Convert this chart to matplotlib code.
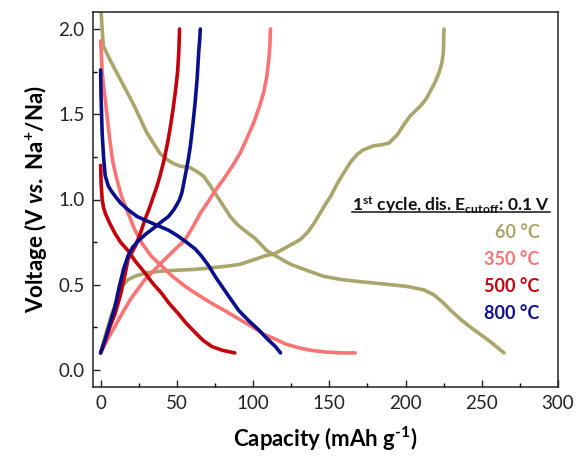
import matplotlib
matplotlib.use("Agg")
import matplotlib.pyplot as plt
from matplotlib.ticker import MultipleLocator
from matplotlib.lines import Line2D

plt.rcParams['font.family'] = ['Lato', 'DejaVu Sans']
plt.rcParams['mathtext.fontset'] = 'custom'
plt.rcParams['mathtext.default'] = 'regular'
plt.rcParams['mathtext.it'] = 'Lato:italic:bold'
plt.rcParams['mathtext.rm'] = 'Lato:bold'
plt.rcParams['mathtext.bf'] = 'Lato:bold'

# ---------------- data ----------------
labels = ["60 °C", "350 °C", "500 °C", "800 °C"]
colors = ["#A8A66A", "#FA7474", "#C4000C", "#0A108A"]

# 60 C
dis60_cap = [0, 1, 1.8, 5, 8.4, 15, 22, 30.4, 39, 43.5, 48, 52.2, 58.8, 63, 67.5, 72, 76.3, 80, 85, 90, 95,
             101.5, 109, 114.7, 124.5, 135, 146, 158, 168, 185, 201, 212, 218.7, 224, 229.6, 237, 245, 255, 264.6]
dis60_v = [2.15, 2.0, 1.90, 1.84, 1.78, 1.67, 1.55, 1.39, 1.27, 1.235, 1.21, 1.196, 1.186, 1.165, 1.137, 1.08, 1.02, 0.97, 0.90, 0.85, 0.815,
           0.77, 0.70, 0.67, 0.62, 0.585, 0.55, 0.53, 0.52, 0.505, 0.49, 0.47, 0.44, 0.40, 0.35, 0.29, 0.235, 0.17, 0.10]
chg60_cap = [0, 3, 7, 11, 14, 18, 22.7, 30, 40, 50, 62, 73, 84, 91.6, 101.5, 108, 113.5, 122, 131, 136, 140, 144,
             148, 151, 155, 159.5, 164, 168.3, 172, 175, 179, 183.6, 189, 194.6, 199, 203, 206.5, 209.9, 213.5,
             216.5, 219.5, 222, 223.8, 224.8, 225.2]
chg60_v = [0.10, 0.2, 0.32, 0.42, 0.49, 0.53, 0.55, 0.57, 0.58, 0.585, 0.59, 0.60, 0.61, 0.62, 0.65, 0.67, 0.68, 0.72, 0.765, 0.81, 0.86, 0.92,
           0.98, 1.02, 1.09, 1.157, 1.22, 1.265, 1.29, 1.30, 1.315, 1.32, 1.33, 1.38, 1.44, 1.49, 1.52, 1.55, 1.59,
           1.64, 1.69, 1.745, 1.80, 1.86, 2.0]

# 350 C
dis350_cap = [0, 0.5, 1, 2, 3, 4.5, 6, 8, 10.6, 14, 18, 22, 27, 33, 40, 47, 55.5, 64, 73, 82, 90.5, 100, 107,
              114.7, 122, 130, 138, 148, 158, 167]
dis350_v = [1.93, 1.85, 1.75, 1.66, 1.59, 1.47, 1.35, 1.22, 1.12, 1.01, 0.92, 0.83, 0.745, 0.67, 0.61, 0.55, 0.49, 0.44, 0.39, 0.345, 0.30, 0.25, 0.21,
            0.18, 0.15, 0.13, 0.115, 0.105, 0.10, 0.10]
chg350_cap = [0, 4, 9, 14, 20, 29, 40, 48, 55.5, 60.5, 65.4, 70, 75, 80.7, 86, 91.7, 96, 100.4, 104, 107, 109, 110.3, 111, 111.4]
chg350_v = [0.10, 0.17, 0.25, 0.33, 0.42, 0.53, 0.63, 0.70, 0.765, 0.84, 0.92, 0.98, 1.05, 1.12, 1.19, 1.275, 1.36, 1.45, 1.54, 1.63, 1.72, 1.82, 1.90, 2.0]

# 500 C
dis500_cap = [0, 0.3, 1, 2, 3, 6, 9.5, 13, 18, 23, 29, 34, 40, 45, 51, 56, 62, 67, 73, 80, 88]
dis500_v = [1.2, 1.1, 1.0, 0.95, 0.92, 0.86, 0.80, 0.75, 0.70, 0.635, 0.57, 0.51, 0.45, 0.39, 0.33, 0.275, 0.22, 0.175, 0.137, 0.115, 0.10]
chg500_cap = [0, 3, 6, 9.5, 13, 16, 18, 20.5, 22.7, 26, 29, 32, 34.7, 37, 39, 41, 42.5, 44.5, 46, 47.5, 49, 50.5, 51.3, 51.8]
chg500_v = [0.10, 0.17, 0.25, 0.33, 0.44, 0.56, 0.65, 0.69, 0.725, 0.80, 0.88, 0.95, 1.02, 1.08, 1.14, 1.21, 1.27, 1.36, 1.44, 1.53, 1.63, 1.75, 1.87, 2.0]

# 800 C
dis800_cap = [0, 0.3, 1, 2, 3, 5, 7, 9.5, 13, 18, 24, 31.4, 38, 44.5, 50, 55.5, 62, 66, 71, 75, 79.6, 85, 90.5,
              97, 103.7, 109, 114.7, 118]
dis800_v = [1.76, 1.6, 1.39, 1.24, 1.14, 1.08, 1.05, 1.02, 0.98, 0.94, 0.90, 0.87, 0.845, 0.82, 0.79, 0.755, 0.71, 0.67, 0.61, 0.55, 0.49, 0.42, 0.35,
            0.29, 0.235, 0.185, 0.137, 0.10]
chg800_cap = [0, 3, 6, 9.4, 12, 15, 18, 21, 25, 30, 36, 40, 44.5, 48, 50, 51.8, 53.3, 55.5, 57.2, 58.8, 60.5, 62, 63.3, 64.3, 65, 65.4]
chg800_v = [0.10, 0.18, 0.27, 0.37, 0.48, 0.59, 0.67, 0.72, 0.76, 0.80, 0.84, 0.87, 0.90, 0.94, 0.97, 1.0, 1.04, 1.14, 1.22, 1.31, 1.44, 1.57, 1.71, 1.86, 1.94, 2.0]

series = [
    (dis60_cap, dis60_v, chg60_cap, chg60_v),
    (dis350_cap, dis350_v, chg350_cap, chg350_v),
    (dis500_cap, dis500_v, chg500_cap, chg500_v),
    (dis800_cap, dis800_v, chg800_cap, chg800_v),
]

x_ticks = [0, 50, 100, 150, 200, 250, 300]
y_ticks = [0.0, 0.5, 1.0, 1.5, 2.0]

# ---------------- plot ----------------
fig = plt.figure(figsize=(5.78, 4.59), dpi=100)
ax = fig.add_axes([93 / 578, 1 - 387 / 459, (558 - 93) / 578, (387 - 12) / 459])

for (dc, dv, cc, cv), col in zip(series, colors):
    ax.plot(dc, dv, color=col, lw=2.6, solid_capstyle='round', solid_joinstyle='round')
    ax.plot(cc, cv, color=col, lw=2.6, solid_capstyle='round', solid_joinstyle='round')

ax.set_xlim(-5, 300)
ax.set_ylim(-0.1, 2.1)
ax.set_xticks(x_ticks)
ax.set_yticks(y_ticks)
ax.set_yticklabels([f"{v:.1f}" for v in y_ticks])
ax.xaxis.set_minor_locator(MultipleLocator(25))
ax.yaxis.set_minor_locator(MultipleLocator(0.25))
ax.tick_params(which='major', direction='in', length=5, width=1, labelsize=13.5, pad=6, colors='#222222')
ax.tick_params(which='minor', direction='in', length=3, width=1)
for s in ax.spines.values():
    s.set_linewidth(1.1)
    s.set_color('#222222')

ax.set_xlabel("Capacity (mAh g$^{\\text{-}1}$)", fontsize=16, fontweight='bold', labelpad=9)
ax.set_ylabel("Voltage (V $\\mathit{vs.}$ Na$^{+}$/Na)", fontsize=16, fontweight='bold', labelpad=7)

title = ax.text(0.983, 0.485, "1$^{st}$ cycle, dis. E$_{cutoff}$: 0.1 V", transform=ax.transAxes,
                ha='right', va='center', fontsize=12.5, fontweight='bold', color='#111111')
item_y = [0.411, 0.339, 0.267, 0.197]
for lab, col, yy in zip(labels, colors, item_y):
    ax.text(0.961, yy, lab, transform=ax.transAxes, ha='right', va='center',
            fontsize=13, fontweight='bold', color=col)

fig.canvas.draw()
r = fig.canvas.get_renderer()
bb = title.get_window_extent(r)
uy = 459 - 212.5
fig.add_artist(Line2D([bb.x0 / 578, bb.x1 / 578], [uy / 459, uy / 459], transform=fig.transFigure,
                      color='#111111', lw=1.1))

fig.savefig("out.png", dpi=100)
